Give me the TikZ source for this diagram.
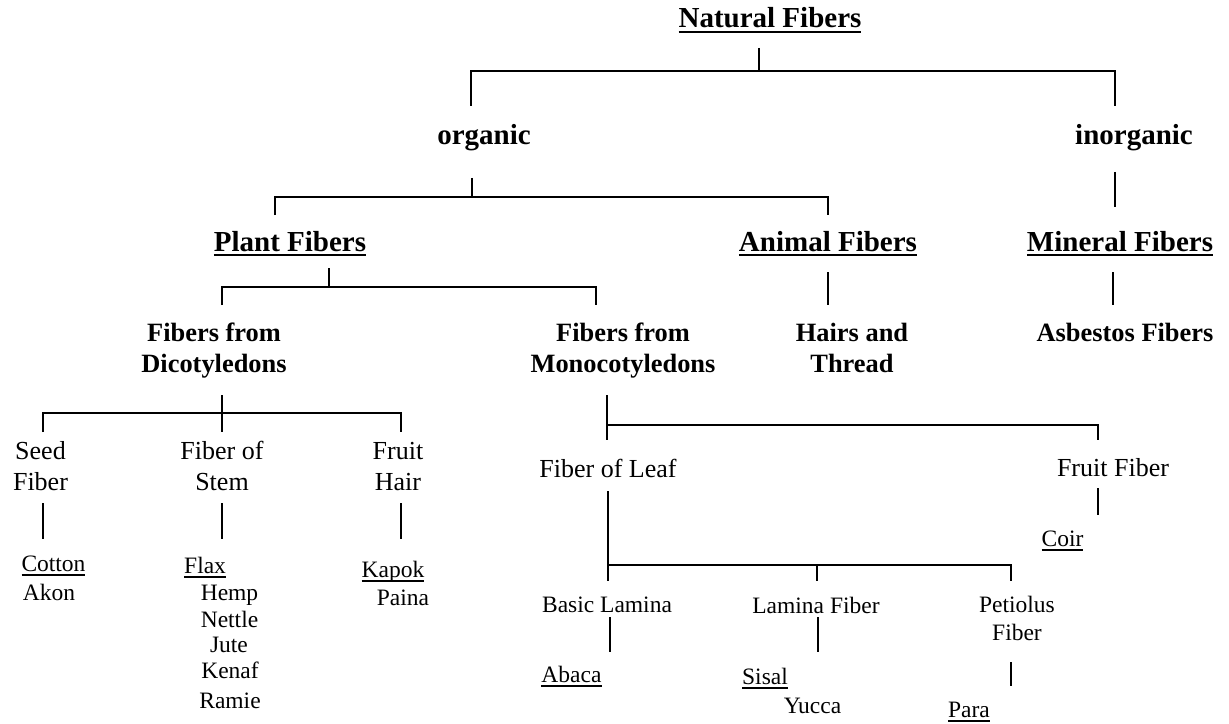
\documentclass[tikz,border=0pt]{standalone}
\usepackage{fontspec}
\setmainfont{Liberation Serif}
\newcommand\myul[1]{\setbox0\hbox{#1}\rlap{\rule[-4.6bp]{\wd0}{1.5bp}}\box0}
\newcommand\stackit[2]{\begin{tabular}[t]{@{}c@{}}#1\\#2\end{tabular}}
\tikzset{
  bigb/.style={inner sep=0pt, anchor=base, font=\fontsize{29bp}{32bp}\selectfont\bfseries},
  midb/.style={inner sep=0pt, anchor=base, font=\fontsize{26.4bp}{31bp}\selectfont\bfseries},
  lab/.style={inner sep=0pt, anchor=base, font=\fontsize{26bp}{31bp}\selectfont},
  itm/.style={inner sep=0pt, anchor=base, font=\fontsize{23.5bp}{28bp}\selectfont},
  conn/.style={line width=1.5bp, line cap=butt}
}
\begin{document}
\begin{tikzpicture}[x=1bp,y=-1bp]
\useasboundingbox (0,0) rectangle (1229,724);

% ---------- nodes ----------
\node[bigb] (nat) at (770,28) {\myul{Natural Fibers}};
\node[bigb] (org) at (484,145) {organic};
\node[bigb] (inorg) at (1134,145) {inorganic};
\node[bigb] (plant) at (290,251) {\myul{Plant Fibers}};
\node[bigb] (animal) at (828,251) {\myul{Animal Fibers}};
\node[bigb] (mineral) at (1120,251) {\myul{Mineral Fibers}};
\node[midb] (dicot) at (214,341) {\stackit{Fibers from}{Dicotyledons}};
\node[midb] (mono) at (623,341) {\stackit{Fibers from}{Monocotyledons}};
\node[midb] (hairs) at (852,341) {\stackit{Hairs and}{Thread}};
\node[midb] (asb) at (1125,341) {Asbestos Fibers};
\node[lab] (seed) at (40.5,459) {\stackit{Seed}{Fiber}};
\node[lab] (stem) at (222,459) {\stackit{Fiber of}{Stem}};
\node[lab] (fhair) at (398,459) {\stackit{Fruit}{Hair}};
\node[lab] (leaf) at (608,477) {Fiber of Leaf};
\node[lab] (fruitf) at (1113,476) {Fruit Fiber};
\node[itm] (cotton) at (53.5,571) {\myul{Cotton}};
\node[itm] (akon) at (49,600) {Akon};
\node[itm, anchor=base west] (flax) at (184,573) {\myul{Flax}};
\node[itm] (hemp) at (229.5,600) {Hemp};
\node[itm] (nettle) at (229.5,627) {Nettle};
\node[itm] (jute) at (229,652) {Jute};
\node[itm] (kenaf) at (230,678) {Kenaf};
\node[itm] (ramie) at (230,708) {Ramie};
\node[itm] (kapok) at (393,577) {\myul{Kapok}};
\node[itm] (paina) at (403,605) {Paina};
\node[itm] (coir) at (1062.5,546) {\myul{Coir}};
\node[itm] (basic) at (607,612) {Basic Lamina};
\node[itm] (lamina) at (816,613) {Lamina Fiber};
\node[itm] (petiol) at (1017,612) {\stackit{Petiolus}{Fiber}};
\node[itm] (abaca) at (571.5,682) {\myul{Abaca}};
\node[itm] (sisal) at (765,684) {\myul{Sisal}};
\node[itm] (yucca) at (812.5,713) {Yucca};
\node[itm] (para) at (969,717) {\myul{Para}};

% ---------- junction coordinates ----------
\coordinate (natT) at (759,48);   \coordinate (natB) at (759,71);
\coordinate (b1L) at (471,71);    \coordinate (b1R) at (1115,71);
\coordinate (orgT) at (471,106);  \coordinate (inorgT) at (1115,106);
\coordinate (orgS) at (472,178);  \coordinate (orgB) at (472,197);
\coordinate (b2L) at (275,197);   \coordinate (b2R) at (828,197);
\coordinate (plantT) at (275,215);\coordinate (animalT) at (828,215);
\coordinate (inorgS) at (1115,172); \coordinate (mineralT) at (1115,207);
\coordinate (plantS) at (329,268);\coordinate (plantB) at (329,287);
\coordinate (b3L) at (222,287);   \coordinate (b3R) at (596,287);
\coordinate (dicotT) at (222,305);\coordinate (monoT) at (596,305);
\coordinate (animalS) at (828,272); \coordinate (hairsT) at (828,305);
\coordinate (mineralS) at (1113,272); \coordinate (asbT) at (1113,305);
\coordinate (dicotS) at (222,395);\coordinate (dicotE) at (222,432);
\coordinate (b4L) at (43,413);    \coordinate (b4R) at (401,413);
\coordinate (seedT) at (43,432);  \coordinate (fhairT) at (401,432);
\coordinate (seedS) at (43,503);  \coordinate (seedE) at (43,539);
\coordinate (stemS) at (222,503); \coordinate (stemE) at (222,539);
\coordinate (fhairS) at (401,503);\coordinate (fhairE) at (401,539);
\coordinate (monoS) at (607,395); \coordinate (monoE) at (607,440);
\coordinate (b5L) at (607,425);   \coordinate (b5R) at (1098,425);
\coordinate (fruitfT) at (1098,440);
\coordinate (fruitfS) at (1098,488); \coordinate (fruitfE) at (1098,515);
\coordinate (leafS) at (608,491); \coordinate (leafE) at (608,581);
\coordinate (b6L) at (608,565);   \coordinate (b6R) at (1011,565);
\coordinate (b6M) at (817,565);
\coordinate (laminaT) at (817,581); \coordinate (petiolT) at (1011,581);
\coordinate (basicS) at (610,617);  \coordinate (basicE) at (610,652);
\coordinate (laminaS) at (818,617); \coordinate (laminaE) at (818,652);
\coordinate (petiolS) at (1011,662);\coordinate (petiolE) at (1011,686);

% ---------- connectors ----------
\draw[conn] (natT) -- (natB);
\draw[conn] (orgT) -- (b1L) -- (b1R) -- (inorgT);
\draw[conn] (orgS) -- (orgB);
\draw[conn] (plantT) -- (b2L) -- (b2R) -- (animalT);
\draw[conn] (inorgS) -- (mineralT);
\draw[conn] (plantS) -- (plantB);
\draw[conn] (dicotT) -- (b3L) -- (b3R) -- (monoT);
\draw[conn] (animalS) -- (hairsT);
\draw[conn] (mineralS) -- (asbT);
\draw[conn] (dicotS) -- (dicotE);
\draw[conn] (seedT) -- (b4L) -- (b4R) -- (fhairT);
\draw[conn] (seedS) -- (seedE);
\draw[conn] (stemS) -- (stemE);
\draw[conn] (fhairS) -- (fhairE);
\draw[conn] (monoS) -- (monoE);
\draw[conn] (b5L) -- (b5R) -- (fruitfT);
\draw[conn] (fruitfS) -- (fruitfE);
\draw[conn] (leafS) -- (leafE);
\draw[conn] (b6L) -- (b6R) -- (petiolT);
\draw[conn] (b6M) -- (laminaT);
\draw[conn] (basicS) -- (basicE);
\draw[conn] (laminaS) -- (laminaE);
\draw[conn] (petiolS) -- (petiolE);
\end{tikzpicture}
\end{document}
